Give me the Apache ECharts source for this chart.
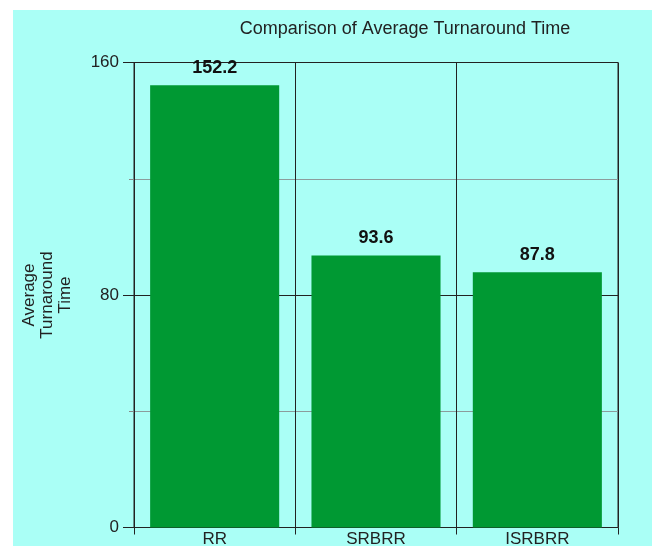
<!DOCTYPE html>
<html>
<head>
<meta charset="utf-8">
<script src="https://cdn.jsdelivr.net/npm/echarts@6/dist/echarts.min.js"></script>
<style>
  html, body { margin: 0; padding: 0; background: #ffffff; }
  #chart { width: 657px; height: 546px; }
</style>
</head>
<body>
<div id="chart"></div>
<script>
// Average turnaround time per scheduling algorithm
const categories = ['RR', 'SRBRR', 'ISRBRR'];
const turnaround = [152.2, 93.6, 87.8];
const yTicks = [0, 80, 160];

const FONT = '"Liberation Sans", Arial, sans-serif';
const chart = echarts.init(document.getElementById('chart'), null, { renderer: 'canvas' });

chart.setOption({
  backgroundColor: '#ffffff',
  animation: false,
  graphic: [{
    type: 'rect',
    z: -10,
    silent: true,
    shape: { x: 13, y: 10, width: 639, height: 536 },
    style: { fill: '#aafff6' }
  }],
  title: {
    text: 'Comparison of Average Turnaround Time',
    left: 400,
    top: 15,
    textAlign: 'center',
    textStyle: { fontFamily: FONT, fontSize: 18, fontWeight: 'normal', color: '#222' }
  },
  grid: {
    left: 134, right: 39, top: 62.5, bottom: 18.5,
    containLabel: false,
    outerBoundsMode: 'none',
    show: true, borderColor: '#222', borderWidth: 1, backgroundColor: 'transparent'
  },
  xAxis: {
    type: 'category',
    data: categories,
    boundaryGap: true,
    axisLine: { lineStyle: { color: '#222', width: 1 } },
    axisTick: { show: true, alignWithLabel: false, length: 7, lineStyle: { color: '#222' } },
    splitLine: { show: true, lineStyle: { color: '#222', width: 1 } },
    axisLabel: { fontFamily: FONT, fontSize: 17, color: '#222', margin: 3 }
  },
  yAxis: {
    type: 'value',
    min: yTicks[0],
    max: yTicks[yTicks.length - 1],
    interval: yTicks[1] - yTicks[0],
    name: 'Average\nTurnaround\nTime',
    nameLocation: 'middle',
    nameRotate: 90,
    nameGap: 60,
    nameTextStyle: { fontFamily: FONT, fontSize: 17, color: '#222', lineHeight: 18 },
    axisLine: { show: true, lineStyle: { color: '#222', width: 1 } },
    axisTick: { show: true, length: 11, lineStyle: { color: '#222' } },
    minorTick: { show: true, splitNumber: 2, length: 5, lineStyle: { color: '#888' } },
    minorSplitLine: { show: true, lineStyle: { color: '#8c9c9c', width: 1 } },
    splitLine: { show: true, lineStyle: { color: '#222', width: 1 } },
    axisLabel: { fontFamily: FONT, fontSize: 17, color: '#222', margin: 15 }
  },
  series: [{
    type: 'bar',
    data: turnaround,
    barCategoryGap: '20%',
    itemStyle: { color: '#009933' },
    label: {
      show: true,
      position: 'top',
      distance: 8,
      fontFamily: FONT,
      fontSize: 18,
      fontWeight: 'bold',
      color: '#111',
      formatter: p => p.value.toFixed(1)
    }
  }]
});
</script>
</body>
</html>
